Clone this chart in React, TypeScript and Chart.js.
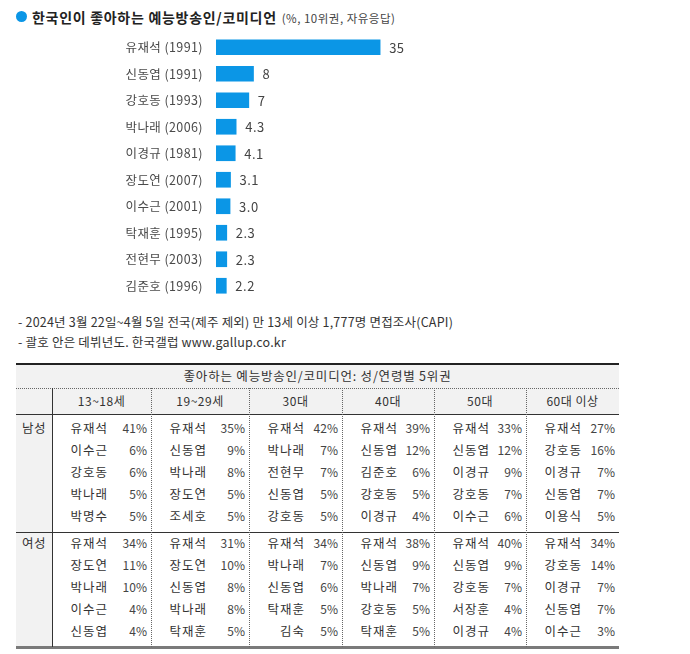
import React, { useEffect, useRef } from "react";
import { Chart, registerables } from "chart.js";

Chart.register(...registerables);

// ---- data ----
const personLabels = [
  "유재석 (1991)",
  "신동엽 (1991)",
  "강호동 (1993)",
  "박나래 (2006)",
  "이경규 (1981)",
  "장도연 (2007)",
  "이수근 (2001)",
  "탁재훈 (1995)",
  "전현무 (2003)",
  "김준호 (1996)",
];
const personValues = [35, 8, 7, 4.3, 4.1, 3.1, 3.0, 2.3, 2.3, 2.2];
const valueLabels = ["35", "8", "7", "4.3", "4.1", "3.1", "3.0", "2.3", "2.3", "2.2"];

const titleMain = "한국인이 좋아하는 예능방송인/코미디언";
const titleSub = "(%, 10위권, 자유응답)";
const footnotes = [
  "- 2024년 3월 22일~4월 5일 전국(제주 제외) 만 13세 이상 1,777명 면접조사(CAPI)",
  "- 괄호 안은 데뷔년도. 한국갤럽 www.gallup.co.kr",
];

const tableTitle = "좋아하는 예능방송인/코미디언: 성/연령별 5위권";
const ageGroups = ["13~18세", "19~29세", "30대", "40대", "50대", "60대 이상"];
const sexLabels = ["남성", "여성"];

const maleNames = [
  ["유재석", "이수근", "강호동", "박나래", "박명수"],
  ["유재석", "신동엽", "박나래", "장도연", "조세호"],
  ["유재석", "박나래", "전현무", "신동엽", "강호동"],
  ["유재석", "신동엽", "김준호", "강호동", "이경규"],
  ["유재석", "신동엽", "이경규", "강호동", "이수근"],
  ["유재석", "강호동", "이경규", "신동엽", "이용식"],
];
const maleShares = [
  [41, 6, 6, 5, 5],
  [35, 9, 8, 5, 5],
  [42, 7, 7, 5, 5],
  [39, 12, 6, 5, 4],
  [33, 12, 9, 7, 6],
  [27, 16, 7, 7, 5],
];
const femaleNames = [
  ["유재석", "장도연", "박나래", "이수근", "신동엽"],
  ["유재석", "장도연", "신동엽", "박나래", "탁재훈"],
  ["유재석", "박나래", "신동엽", "탁재훈", "김숙"],
  ["유재석", "신동엽", "박나래", "강호동", "탁재훈"],
  ["유재석", "신동엽", "강호동", "서장훈", "이경규"],
  ["유재석", "강호동", "이경규", "신동엽", "이수근"],
];
const femaleShares = [
  [34, 11, 10, 4, 4],
  [31, 10, 8, 8, 5],
  [34, 7, 6, 5, 5],
  [38, 9, 7, 5, 5],
  [40, 9, 7, 4, 4],
  [34, 14, 7, 7, 3],
];

// ---- styling ----
const FONT = '"Noto Sans CJK KR", "Noto Sans", sans-serif';
const BLUE = "#0b96e6";
const GRAY_BG = "#f2f2f2";

const TL = 16; // table left
const FC = 52; // first col right
const groupRights = [151, 249, 342, 434, 526, 619];
const TOP = 364;
const TITLE_B = 388;
const HEAD_B = 414;
const DIV_Y = 532;
const BOT = 647;
const ROW_H = 22;

const spacingPlugin = {
  id: "spacing",
  beforeDraw(chart: any) {
    chart.ctx.letterSpacing = "0.4px";
  },
};

const valueLabelPlugin = {
  id: "valueLabels",
  afterDatasetsDraw(chart: any) {
    const { ctx } = chart;
    const meta = chart.getDatasetMeta(0);
    ctx.save();
    ctx.letterSpacing = "0.5px";
    ctx.font = `13px ${FONT}`;
    ctx.fillStyle = "#444";
    ctx.textAlign = "left";
    ctx.textBaseline = "middle";
    meta.data.forEach((bar: any, i: number) => {
      ctx.fillText(valueLabels[i], bar.x + 9, bar.y + 0.5);
    });
    ctx.restore();
  },
};

function BarChart() {
  const ref = useRef<HTMLCanvasElement | null>(null);
  useEffect(() => {
    if (!ref.current) return;
    const chart = new Chart(ref.current, {
      type: "bar",
      data: {
        labels: personLabels,
        datasets: [
          {
            data: personValues,
            backgroundColor: BLUE,
            barThickness: 15,
          },
        ],
      },
      options: {
        indexAxis: "y",
        responsive: false,
        maintainAspectRatio: false,
        animation: false,
        layout: { padding: 0, autoPadding: false },
        plugins: { legend: { display: false }, tooltip: { enabled: false } },
        scales: {
          x: { display: false, min: 0, max: 43.5 },
          y: {
            grid: { display: false, drawTicks: false },
            border: { display: false },
            ticks: {
              padding: 13,
              color: "#4a4a4a",
              font: { family: FONT, size: 12.5 },
            },
            afterFit(scale: any) {
              scale.width = 216;
              scale.paddingTop = 0;
              scale.paddingBottom = 0;
            },
          },
        },
      },
      plugins: [spacingPlugin, valueLabelPlugin],
    } as any);
    return () => chart.destroy();
  }, []);
  return (
    <canvas
      ref={ref}
      width={420}
      height={265}
      style={{ position: "absolute", left: 0, top: 34, width: 420, height: 265 }}
    />
  );
}

function abs(left: number, top: number, width: number, height: number, extra: any = {}) {
  return { position: "absolute" as const, left, top, width, height, ...extra };
}

function Table() {
  const groupLefts = [FC, ...groupRights.slice(0, -1)];
  const els: any[] = [];
  const W = groupRights[5] - TL;
  // backgrounds
  els.push(<div key="tbg" style={abs(TL, TOP, W, HEAD_B - TOP, { background: GRAY_BG })} />);
  els.push(<div key="fcbg" style={abs(TL, HEAD_B, FC - TL, BOT - HEAD_B, { background: GRAY_BG })} />);
  // lines
  els.push(<div key="topb" style={abs(TL, TOP - 1, W, 2, { background: "#222" })} />);
  els.push(<div key="dot1" style={abs(TL, TITLE_B, W, 0, { borderTop: "1px dotted #666" })} />);
  els.push(<div key="headb" style={abs(TL, HEAD_B, W, 1, { background: "#333" })} />);
  els.push(<div key="divb" style={abs(TL, DIV_Y, W, 1, { background: "#333" })} />);
  els.push(<div key="botb" style={abs(TL, BOT - 1, W, 3, { background: "#7a7a7a" })} />);
  els.push(<div key="v0" style={abs(FC, TITLE_B, 1, BOT - TITLE_B, { background: "#333" })} />);
  groupRights.slice(0, -1).forEach((x, i) =>
    els.push(
      <div key={"vd" + i} style={abs(x, TITLE_B, 0, BOT - TITLE_B, { borderLeft: "1px dotted #666" })} />
    )
  );
  // title text
  els.push(
    <div
      key="ttext"
      style={abs(TL, TOP, W, TITLE_B - TOP, {
        textAlign: "center",
        lineHeight: `${TITLE_B - TOP}px`,
        fontSize: 12.5,
        letterSpacing: 0.8,
        color: "#333",
      })}
    >
      {tableTitle}
    </div>
  );
  // headers
  ageGroups.forEach((g, i) =>
    els.push(
      <div
        key={"h" + i}
        style={abs(groupLefts[i], TITLE_B, groupRights[i] - groupLefts[i], HEAD_B - TITLE_B, {
          textAlign: "center",
          lineHeight: `${HEAD_B - TITLE_B}px`,
          fontSize: 12,
          letterSpacing: 0.5,
          color: "#333",
        })}
      >
        {g}
      </div>
    )
  );
  const blocks = [
    { sex: sexLabels[0], names: maleNames, shares: maleShares, top: HEAD_B + 3 },
    { sex: sexLabels[1], names: femaleNames, shares: femaleShares, top: DIV_Y },
  ];
  blocks.forEach((b, bi) => {
    els.push(
      <div
        key={"sex" + bi}
        style={abs(TL, b.top, FC - TL, ROW_H, {
          textAlign: "center",
          lineHeight: `${ROW_H}px`,
          fontSize: 12.5,
          letterSpacing: 0.5,
          color: "#333",
        })}
      >
        {b.sex}
      </div>
    );
    b.names.forEach((col, gi) => {
      col.forEach((name, ri) => {
        const y = b.top + ri * ROW_H;
        els.push(
          <div
            key={`n${bi}-${gi}-${ri}`}
            style={abs(groupLefts[gi], y, 56, ROW_H, {
              textAlign: "right",
              lineHeight: `${ROW_H}px`,
              fontSize: 12.5,
              letterSpacing: 1,
              color: "#333",
            })}
          >
            {name}
          </div>
        );
        els.push(
          <div
            key={`p${bi}-${gi}-${ri}`}
            style={abs(groupLefts[gi] + 56, y, groupRights[gi] - groupLefts[gi] - 60, ROW_H, {
              textAlign: "right",
              lineHeight: `${ROW_H}px`,
              fontSize: 12,
              color: "#444",
            })}
          >
            {b.shares[gi][ri]}%
          </div>
        );
      });
    });
  });
  return <>{els}</>;
}

export default function App() {
  return (
    <div
      style={{
        position: "absolute",
        left: 0,
        top: 0,
        width: 690,
        height: 654,
        background: "#fff",
        fontFamily: FONT,
        overflow: "hidden",
      }}
    >
      <div style={abs(16, 11, 11, 11, { borderRadius: "50%", background: BLUE })} />
      <div style={abs(32, 6, 560, 20, { lineHeight: "20px", whiteSpace: "nowrap", color: "#222" })}>
        <span style={{ fontWeight: 700, fontSize: 14, letterSpacing: 0.7 }}>{titleMain}</span>
        <span style={{ fontSize: 11.5, letterSpacing: 0.5, color: "#444", marginLeft: 5 }}>{titleSub}</span>
      </div>
      <BarChart />
      {footnotes.map((t, i) => (
        <div
          key={i}
          style={abs(18, 312 + i * 20, 640, 20, {
            lineHeight: "20px",
            fontSize: 12.5,
            letterSpacing: 0.2,
            color: "#333",
            whiteSpace: "nowrap",
          })}
        >
          {t}
        </div>
      ))}
      <Table />
    </div>
  );
}
